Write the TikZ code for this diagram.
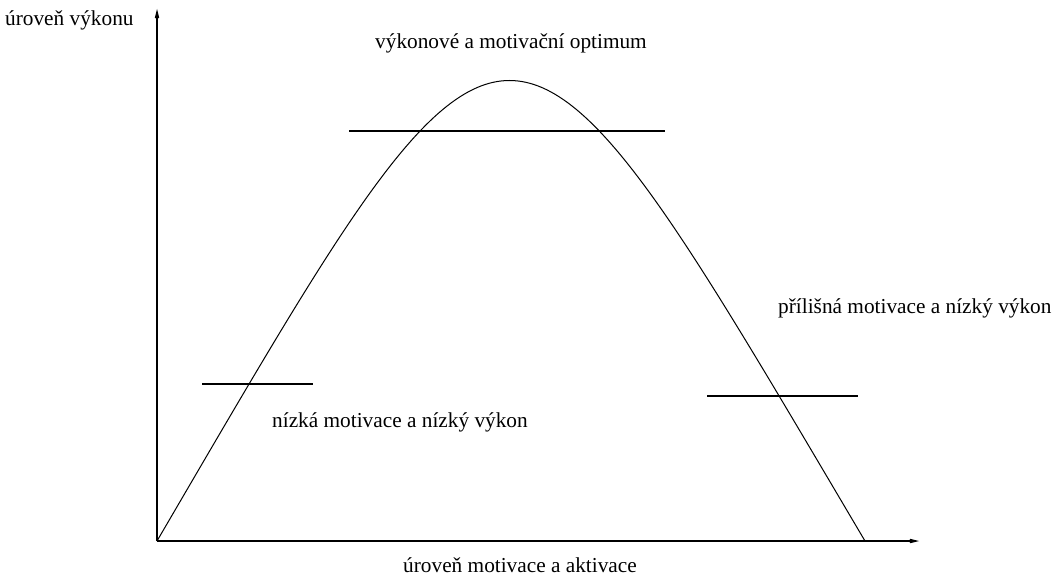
\documentclass[tikz,border=0pt]{standalone}
\usepackage{fontspec}
\setmainfont{Liberation Serif}
\usetikzlibrary{arrows.meta}
\begin{document}
\begin{tikzpicture}[x=1pt,y=-1pt,
  axis/.style={line width=1.4pt,-{Stealth[length=20pt,width=10pt,inset=13pt]}},
  curve/.style={line width=1pt},
  level/.style={line width=1.1pt},
  lbl/.style={font=\fontsize{21.3}{24}\selectfont,inner sep=0pt}]
\useasboundingbox (0,0) rectangle (1064,577);
\coordinate (O) at (157,541);
\coordinate (Ytop) at (157,9);
\coordinate (Xend) at (919,541);
\coordinate (E) at (865,541);
\draw[axis] (O) -- (Ytop);
\draw[axis] (O) -- (Xend);
\draw[curve] (O) .. controls (516,-73) and (502,-73) .. (E);
\coordinate (t1) at (349,131); \coordinate (t2) at (665,131);
\coordinate (l1) at (202,384); \coordinate (l2) at (313,384);
\coordinate (r1) at (707,396); \coordinate (r2) at (858,396);
\draw[level] (t1) -- (t2);
\draw[level] (l1) -- (l2);
\draw[level] (r1) -- (r2);
\node[lbl,anchor=west] (ly) at (5,20) {úroveň výkonu};
\node[lbl] (lopt) at (511,43) {výkonové a motivační optimum};
\node[lbl,anchor=west] (lhigh) at (778,308) {přílišná motivace a nízký výkon};
\node[lbl,anchor=west] (llow) at (272,422) {nízká motivace a nízký výkon};
\node[lbl] (lx) at (520,565) {úroveň motivace a aktivace};
\end{tikzpicture}
\end{document}
